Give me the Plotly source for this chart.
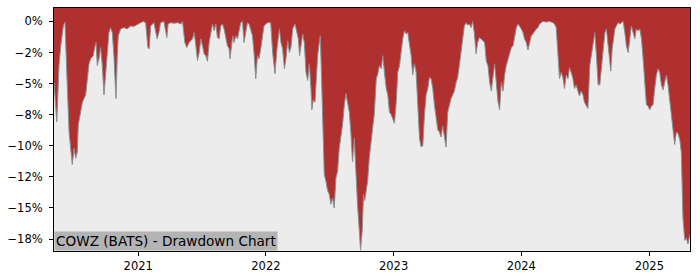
import pandas as pd
import plotly.graph_objects as go

# decimal-year timestamps and drawdown values (%)
years = [
 2020.341, 2020.363, 2020.380, 2020.394, 2020.414, 2020.427, 2020.441, 2020.459, 2020.484, 2020.498,
 2020.511, 2020.523, 2020.531, 2020.545, 2020.563, 2020.589, 2020.602, 2020.615, 2020.628, 2020.648,
 2020.659, 2020.670, 2020.680, 2020.693, 2020.706, 2020.719, 2020.732, 2020.745, 2020.758, 2020.771,
 2020.784, 2020.797, 2020.810, 2020.826, 2020.836, 2020.844, 2020.863, 2020.888, 2020.914, 2020.941,
 2020.966, 2020.992, 2021.019, 2021.039, 2021.058, 2021.076, 2021.086, 2021.097, 2021.123, 2021.148,
 2021.162, 2021.175, 2021.201, 2021.224, 2021.234, 2021.255, 2021.281, 2021.308, 2021.334, 2021.347,
 2021.365, 2021.380, 2021.398, 2021.425, 2021.438, 2021.451, 2021.464, 2021.477, 2021.490, 2021.503,
 2021.516, 2021.529, 2021.542, 2021.555, 2021.568, 2021.581, 2021.594, 2021.607, 2021.620, 2021.633,
 2021.646, 2021.659, 2021.672, 2021.685, 2021.698, 2021.711, 2021.719, 2021.730, 2021.740, 2021.750,
 2021.763, 2021.777, 2021.802, 2021.816, 2021.828, 2021.841, 2021.855, 2021.867, 2021.880, 2021.894,
 2021.906, 2021.920, 2021.933, 2021.945, 2021.959, 2021.972, 2021.984, 2022.011, 2022.037, 2022.052,
 2022.070, 2022.086, 2022.105, 2022.117, 2022.130, 2022.144, 2022.156, 2022.170, 2022.183, 2022.195,
 2022.209, 2022.227, 2022.242, 2022.253, 2022.263, 2022.273, 2022.287, 2022.300, 2022.313, 2022.326,
 2022.339, 2022.352, 2022.359, 2022.370, 2022.383, 2022.394, 2022.404, 2022.417, 2022.425, 2022.435,
 2022.448, 2022.456, 2022.469, 2022.482, 2022.495, 2022.508, 2022.521, 2022.534, 2022.547, 2022.560,
 2022.573, 2022.586, 2022.599, 2022.613, 2022.625, 2022.638, 2022.652, 2022.664, 2022.677, 2022.691,
 2022.703, 2022.716, 2022.730, 2022.740, 2022.753, 2022.763, 2022.773, 2022.784, 2022.795, 2022.808,
 2022.820, 2022.834, 2022.847, 2022.863, 2022.875, 2022.888, 2022.902, 2022.914, 2022.927, 2022.941,
 2022.953, 2022.966, 2022.980, 2022.992, 2023.005, 2023.019, 2023.031, 2023.045, 2023.058, 2023.070,
 2023.084, 2023.097, 2023.109, 2023.123, 2023.136, 2023.148, 2023.162, 2023.175, 2023.188, 2023.201,
 2023.214, 2023.227, 2023.240, 2023.253, 2023.266, 2023.279, 2023.292, 2023.305, 2023.318, 2023.331,
 2023.344, 2023.357, 2023.370, 2023.383, 2023.396, 2023.409, 2023.422, 2023.436, 2023.448, 2023.461,
 2023.474, 2023.488, 2023.500, 2023.513, 2023.527, 2023.539, 2023.552, 2023.566, 2023.578, 2023.591,
 2023.605, 2023.617, 2023.630, 2023.644, 2023.656, 2023.670, 2023.683, 2023.711, 2023.724, 2023.737,
 2023.750, 2023.763, 2023.777, 2023.789, 2023.802, 2023.816, 2023.828, 2023.841, 2023.855, 2023.867,
 2023.880, 2023.894, 2023.906, 2023.920, 2023.933, 2023.945, 2023.959, 2023.972, 2023.984, 2023.998,
 2024.011, 2024.023, 2024.037, 2024.050, 2024.063, 2024.076, 2024.089, 2024.102, 2024.115, 2024.128,
 2024.141, 2024.154, 2024.167, 2024.193, 2024.219, 2024.245, 2024.258, 2024.271, 2024.284, 2024.297,
 2024.310, 2024.323, 2024.336, 2024.349, 2024.363, 2024.375, 2024.388, 2024.402, 2024.414, 2024.427,
 2024.441, 2024.453, 2024.466, 2024.480, 2024.492, 2024.505, 2024.519, 2024.534, 2024.547, 2024.560,
 2024.573, 2024.586, 2024.599, 2024.612, 2024.625, 2024.638, 2024.652, 2024.664, 2024.677, 2024.691,
 2024.698, 2024.709, 2024.719, 2024.730, 2024.742, 2024.755, 2024.769, 2024.781, 2024.795, 2024.808,
 2024.820, 2024.834, 2024.847, 2024.859, 2024.873, 2024.886, 2024.898, 2024.912, 2024.925, 2024.938,
 2024.951, 2024.964, 2024.977, 2024.990, 2025.003, 2025.016, 2025.029, 2025.042, 2025.055, 2025.068,
 2025.081, 2025.094, 2025.107, 2025.120, 2025.133, 2025.146, 2025.159, 2025.172, 2025.185, 2025.198,
 2025.211, 2025.224, 2025.238, 2025.250, 2025.263, 2025.277, 2025.289, 2025.302, 2025.318,
]
drawdown_pct = [
 -4.9, -8.07, -3.55, -1.95, -0.36, -0.04, -4.1, -8.9, -11.5, -10.2,
 -11.0, -10.5, -8.3, -7.5, -6.5, -5.9, -4.6, -3.4, -3.0, -2.75,
 -2.1, -1.7, -3.55, -3.0, -2.1, -3.55, -5.9, -4.1, -1.95, -0.9,
 -0.5, -0.9, -2.75, -6.2, -2.75, -1.15, -0.6, -0.5, -0.6, -0.36,
 -0.4, -0.22, -0.1, 0.0, -0.1, -2.1, -2.2, -0.36, -0.1, -1.4,
 -0.9, -0.1, 0.0, -1.3, -0.2, -0.1, -0.15, -0.1, -0.2, 0.0,
 -1.7, -2.1, -1.7, -1.4, -0.9, -1.95, -3.15, -2.5, -1.4, -1.95,
 -2.6, -2.75, -3.2, -1.7, -0.9, -0.2, -0.75, -0.2, -1.3, -1.4,
 -0.36, -0.2, -0.6, -1.4, -1.95, -2.2, -3.0, -1.95, -1.15, -1.7,
 -1.15, -1.4, -0.1, 0.0, -1.7, -0.9, -0.1, -0.2, -0.6, -1.15,
 -2.5, -4.6, -2.75, -3.0, -2.2, -1.4, -0.36, -0.1, -0.1, -2.5,
 -4.2, -2.2, -0.6, -1.7, -2.2, -3.8, -3.0, -1.55, -2.5, -2.1,
 -0.6, -0.2, -0.9, -1.4, -2.75, -1.95, -1.0, -1.7, -4.1, -4.75,
 -3.4, -5.4, -7.1, -6.3, -6.5, -4.6, -2.75, -1.7, -1.15, -4.6,
 -9.4, -12.3, -12.85, -13.6, -13.9, -14.7, -14.2, -15.0, -12.6, -12.05,
 -10.2, -9.4, -8.3, -6.7, -5.8, -6.5, -7.3, -8.9, -11.3, -9.4,
 -12.6, -14.7, -16.8, -18.4, -16.8, -13.9, -14.4, -13.6, -12.85, -11.0,
 -9.7, -8.6, -7.5, -4.6, -4.2, -3.55, -3.8, -2.75, -4.1, -5.4,
 -5.9, -7.3, -7.5, -7.8, -8.2, -6.5, -4.1, -3.55, -2.5, -1.4,
 -0.75, -1.0, -0.9, -1.7, -2.75, -4.3, -3.4, -4.1, -7.3, -9.4,
 -10.1, -10.0, -7.5, -5.9, -5.4, -4.5, -4.6, -5.4, -6.7, -7.8,
 -8.7, -8.9, -9.3, -8.4, -9.1, -10.1, -7.3, -6.7, -6.2, -5.9,
 -5.6, -4.9, -4.5, -3.55, -2.5, -1.7, -0.36, -0.1, -0.3, -0.2,
 -0.5, 0.0, -0.9, -2.6, -1.7, -1.3, -1.4, -1.7, -3.2, -3.55,
 -4.9, -5.6, -4.1, -3.4, -4.9, -6.5, -7.1, -4.9, -5.6, -4.3,
 -3.55, -3.0, -2.75, -2.1, -1.95, -1.15, -0.5, -0.2, -0.36, -0.6,
 -0.9, -1.4, -1.7, -2.3, -1.7, -1.15, -1.0, -0.75, -0.6, -0.5,
 -0.2, -0.1, 0.0, -0.05, 0.0, -0.1, -0.2, -0.5, -2.2, -4.6,
 -4.1, -4.5, -5.4, -4.3, -4.6, -3.7, -4.1, -4.6, -5.4, -5.1,
 -5.6, -6.0, -5.6, -5.9, -6.5, -6.7, -7.0, -3.55, -2.75, -1.95,
 -0.9, -2.75, -5.1, -5.1, -3.55, -2.2, -0.9, -0.6, -1.95, -3.55,
 -4.0, -2.2, -1.15, -0.6, -0.36, -0.1, -0.2, -0.1, 0.0, -0.9,
 -1.95, -2.5, -1.4, -0.36, -0.9, -1.4, -0.6, -0.75, -0.6, -1.4,
 -3.0, -4.9, -6.7, -6.8, -7.1, -6.8, -6.7, -5.4, -4.3, -3.8,
 -4.1, -5.1, -5.5, -4.9, -4.3, -5.1, -6.4, -7.9, -8.7, -9.9,
 -8.9, -9.0, -9.5, -10.5, -15.8, -17.6, -17.4, -17.9, -17.1,
]

ytick_vals = [0, -0.025, -0.05, -0.075, -0.10, -0.125, -0.15, -0.175]
ytick_text = ["0%", "\u22122%", "\u22125%", "\u22128%", "\u221210%", "\u221212%", "\u221215%", "\u221218%"]
xtick_years = [2021, 2022, 2023, 2024, 2025]
title_text = "COWZ (BATS) - Drawdown Chart"

def to_date(y):
    return pd.Timestamp("2021-01-01") + pd.to_timedelta((y - 2021.0) * 365.25, unit="D")

dates = [to_date(y) for y in years]
dd = [v / 100.0 for v in drawdown_pct]
top = [0.03] * len(dates)

RED = "#b02f2f"
fig = go.Figure()
fig.add_trace(go.Scatter(x=dates, y=top, mode="lines", line=dict(width=0), hoverinfo="skip", showlegend=False))
fig.add_trace(go.Scatter(x=dates, y=dd, mode="lines", fill="tonexty", fillcolor=RED,
                         line=dict(color="#8a8f8f", width=1), showlegend=False))

fig.update_layout(
    width=700, height=280,
    margin=dict(l=53, r=10, t=7, b=28),
    paper_bgcolor="white", plot_bgcolor="#ececec",
    font=dict(family="DejaVu Sans", size=11.5, color="black"),
    showlegend=False,
)
fig.update_xaxes(
    range=[to_date(2020.341), to_date(2025.318)],
    tickvals=[pd.Timestamp(f"{y}-01-01") for y in xtick_years],
    ticktext=[str(y) for y in xtick_years],
    ticks="outside", ticklen=4, tickcolor="black", showgrid=False, zeroline=False,
    showline=True, linecolor="black", linewidth=1, mirror=True,
)
fig.update_yaxes(
    range=[-0.1846, 0.0108],
    tickvals=ytick_vals, ticktext=ytick_text,
    ticks="outside", ticklen=4, tickcolor="black", showgrid=False, zeroline=False,
    showline=True, linecolor="black", linewidth=1, mirror=True, ticklabelstandoff=4,
)
fig.add_annotation(
    x=0, y=0, xref="paper", yref="paper", xanchor="left", yanchor="bottom",
    text=title_text, showarrow=False, bgcolor="#b4b4b4", borderpad=1,
    font=dict(family="DejaVu Sans", size=13.6, color="black"),
)
fig.write_html("out.html")
